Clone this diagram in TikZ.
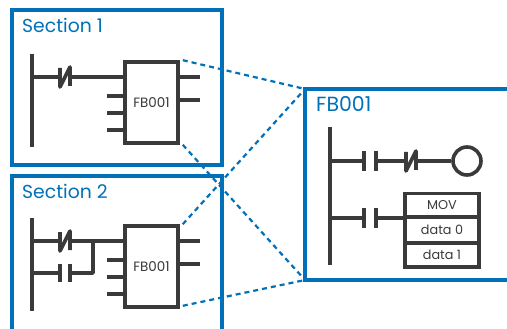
\documentclass[tikz,border=0pt]{standalone}
\usepackage{fontspec}
\setmainfont{Poppins}
\definecolor{bl}{HTML}{0071B9}
\definecolor{dk}{HTML}{3A3A3A}
\tikzset{
  x=1pt,y=-1pt,
  frame/.style={draw=bl,line width=4.2pt},
  wire/.style={draw=dk,line width=3.6pt,line join=round},
  link/.style={draw=bl,line width=2.2pt,dash pattern=on 5pt off 4pt},
  title/.style={text=bl,font=\fontsize{18.8}{20}\selectfont,anchor=base west,inner sep=0pt},
  fb/.style={draw=dk,line width=3.6pt,fill=white,minimum width=53pt,minimum height=81pt,inner sep=0pt,text=dk,font=\fontsize{13.5}{15}\selectfont},
  cell/.style={draw=dk,line width=3.6pt,fill=white,minimum width=74pt,inner sep=0pt,text=dk,font=\fontsize{12.8}{14}\selectfont},
  coil/.style={draw=dk,line width=3.6pt,circle,minimum size=28pt,inner sep=0pt}
}
\begin{document}
\begin{tikzpicture}
\useasboundingbox (0,0) rectangle (507,329);
\clip (0,0) rectangle (507,329);
% frames
\draw[frame] (12,10) rectangle (222,165);
\draw[frame] (12,329) |- (222,176) -- (222,329);
\node[title] (t1) at (22,33) {Section 1};
\node[title] (t2) at (22,198) {Section 2};
% section 1
\draw[wire] (32,54) -- (32,147);
\draw[wire] (32,77) -- (60,77) (70,77) -- (125,77);
\draw[wire] (60,68) -- (60,87) -- (70,67) -- (70,86);
\node[fb] (b1) at (151.5,102.5) {FB001};
\coordinate (b1l1) at (107,96); \coordinate (b1l2) at (107,113); \coordinate (b1l3) at (107,130);
\coordinate (b1r1) at (200,77); \coordinate (b1r2) at (200,100);
\draw[wire] (b1l1) -- (b1.west |- b1l1) (b1l2) -- (b1.west |- b1l2) (b1l3) -- (b1.west |- b1l3);
\draw[wire] (b1r1) -- (b1.east |- b1r1) (b1r2) -- (b1.east |- b1r2);
% section 2
\draw[wire] (32,218) -- (32,311);
\draw[wire] (32,241) -- (60,241) (70,241) -- (125,241);
\draw[wire] (60,232) -- (60,251) -- (70,231) -- (70,250);
\draw[wire] (32,273) -- (60,273) (70,273) -- (93,273) -- (93,241);
\draw[wire] (60,264) -- (60,282) (70,264) -- (70,282);
\node[fb] (b2) at (151.5,266.5) {FB001};
\coordinate (b2l1) at (107,260); \coordinate (b2l2) at (107,277); \coordinate (b2l3) at (107,294);
\coordinate (b2r1) at (200,241); \coordinate (b2r2) at (200,264);
\draw[wire] (b2l1) -- (b2.west |- b2l1) (b2l2) -- (b2.west |- b2l2) (b2l3) -- (b2.west |- b2l3);
\draw[wire] (b2r1) -- (b2.east |- b2r1) (b2r2) -- (b2.east |- b2r2);
% FB001 detail
\coordinate (fnw) at (305,89); \coordinate (fsw) at (305,280);
\draw[link] (b1.north east) ++(3,0) -- (fnw);
\draw[link] (b1.south east) ++(3,0) -- (fsw);
\draw[link] (b2.north east) ++(3,0) -- (fnw);
\draw[link] (b2.south east) ++(3,-3) -- (fsw);
\draw[frame] (507,89) -- (fnw) -- (fsw) -- (507,280);
\node[title,font=\fontsize{20.5}{22}\selectfont] (t3) at (316,112) {FB001};
\draw[wire] (330,127) -- (330,265);
\node[coil] (c) at (467,161) {};
\draw[wire] (330,161) -- (364,161) (376,161) -- (406,161) (416,161) -- (c.west);
\draw[wire] (364,151) -- (364,171) (376,151) -- (376,171);
\draw[wire] (406,152) -- (406,171) -- (416,151) -- (416,170);
\node[cell,minimum height=24pt] (m0) at (442,205.5) {MOV};
\node[cell,minimum height=26pt] (m1) at (442,230) {data 0};
\node[cell,minimum height=24pt] (m2) at (442,255) {data 1};
\draw[wire] (330,218) -- (364,218) (376,218) -- (m1.west |- 0,218);
\draw[wire] (364,208) -- (364,228) (376,208) -- (376,228);
\end{tikzpicture}
\end{document}
